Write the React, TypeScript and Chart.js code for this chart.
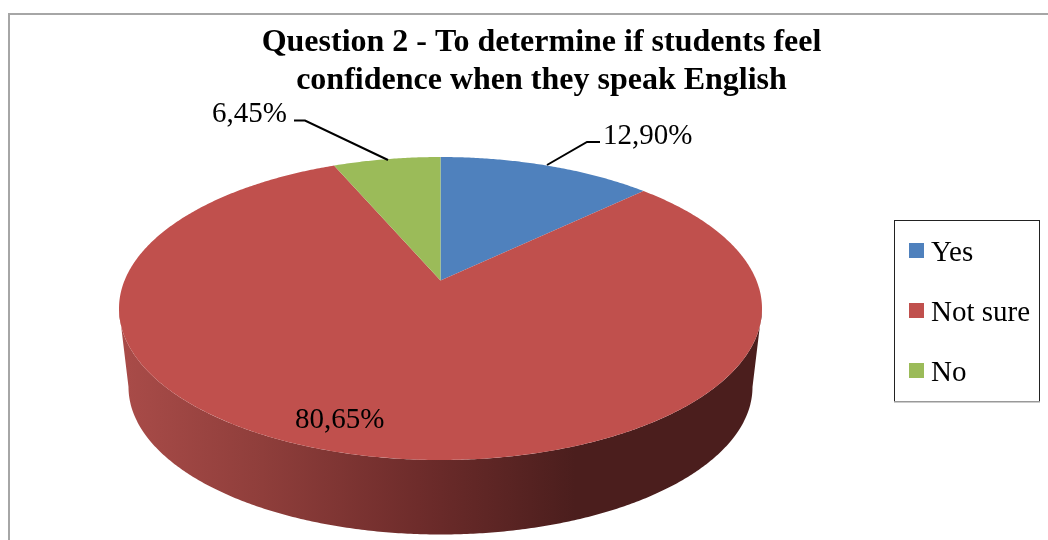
import React, { useEffect, useRef } from "react";
import { Chart, registerables } from "chart.js";

Chart.register(...registerables);

const categories = ["Yes", "Not sure", "No"];
const shares = [12.9, 80.65, 6.45];
const sliceColors = ["#4F81BD", "#C0504D", "#9BBB59"];
const titleLines = ["Question 2 - To determine if students feel", "confidence when they speak English"];
const FONT = '"Liberation Serif"';

// Projective view of a disc: k sets how far the hub sits behind the outline's centre.
type Plane = { cx: number; cy: number; rx: number; ry: number; k: number };
const topPlane: Plane = { cx: 440.5, cy: 308.5, rx: 321.5, ry: 151.5, k: 0.185 };
const basePlane: Plane = { cx: 440.5, cy: 387, rx: 312, ry: 147.5, k: 0.185 };

function project(p: Plane, angle: number): [number, number] {
  const u = Math.cos(angle);
  const v = Math.sin(angle);
  const d = 1 - p.k * v;
  const a = p.rx * Math.sqrt(1 - p.k * p.k);
  return [p.cx + (a * u) / d, p.cy + (p.ry * v - p.k * p.ry) / d];
}

function hub(p: Plane): [number, number] {
  return [p.cx, p.cy - p.k * p.ry];
}

function tracePoints(ctx: CanvasRenderingContext2D, p: Plane, from: number, to: number, move = false) {
  const steps = Math.max(8, Math.ceil(Math.abs(to - from) * 120));
  for (let i = 0; i <= steps; i++) {
    const [x, y] = project(p, from + ((to - from) * i) / steps);
    if (i === 0 && move) ctx.moveTo(x, y);
    else ctx.lineTo(x, y);
  }
}

const percent = (v: number) => v.toFixed(2).replace(".", ",") + "%";

const tiltedPie = {
  id: "tiltedPie",
  beforeDraw(chart: Chart) {
    const { ctx, width, height } = chart;
    ctx.save();
    ctx.fillStyle = "#ffffff";
    ctx.fillRect(0, 0, width, height);
    ctx.strokeStyle = "#A6A6A6";
    ctx.lineWidth = 2;
    ctx.beginPath();
    ctx.moveTo(9, height);
    ctx.lineTo(9, 14);
    ctx.lineTo(width, 14);
    ctx.stroke();
    ctx.restore();
  },
  // The arcs are painted here from the angles the pie controller computed.
  beforeDatasetDraw() {
    return false;
  },
  afterDatasetsDraw(chart: Chart) {
    const { ctx } = chart;
    const arcs = chart.getDatasetMeta(0).data as any[];
    ctx.save();

    // Side wall of the disc
    const horizonAngle = Math.asin(topPlane.k);
    const wall = ctx.createLinearGradient(128, 0, 575, 0);
    wall.addColorStop(0, "#A84B48");
    wall.addColorStop(0.3, "#8F3E3B");
    wall.addColorStop(0.65, "#6E2C2B");
    wall.addColorStop(1, "#4B1E1D");
    ctx.fillStyle = wall;
    ctx.beginPath();
    tracePoints(ctx, topPlane, horizonAngle, Math.PI - horizonAngle, true);
    tracePoints(ctx, basePlane, Math.PI - horizonAngle, horizonAngle);
    ctx.closePath();
    ctx.fill();

    // Top face
    arcs.forEach((arc, i) => {
      const [hx, hy] = hub(topPlane);
      ctx.fillStyle = sliceColors[i];
      ctx.beginPath();
      ctx.moveTo(hx, hy);
      tracePoints(ctx, topPlane, arc.startAngle, arc.endAngle);
      ctx.closePath();
      ctx.fill();
    });

    // Value labels and their leader lines
    ctx.fillStyle = "#000000";
    ctx.font = `29px ${FONT}`;
    ctx.textBaseline = "alphabetic";
    ctx.textAlign = "left";
    ctx.fillText(percent(shares[0]), 603, 144);
    ctx.fillText(percent(shares[1]), 295, 428);
    ctx.fillText(percent(shares[2]), 212, 122);

    ctx.strokeStyle = "#000000";
    ctx.lineWidth = 2;
    ctx.beginPath();
    ctx.moveTo(547, 165);
    ctx.lineTo(587, 142);
    ctx.lineTo(600, 142);
    ctx.moveTo(294, 120.5);
    ctx.lineTo(305, 120.5);
    ctx.lineTo(388, 160);
    ctx.stroke();

    // Legend box
    ctx.strokeStyle = "#222222";
    ctx.lineWidth = 1;
    ctx.strokeRect(894.5, 220.5, 145, 181);
    ctx.fillStyle = "#999999";
    ctx.fillRect(894, 401, 146, 1.5);
    categories.forEach((name, i) => {
      const y = 243 + i * 60;
      ctx.fillStyle = sliceColors[i];
      ctx.fillRect(909, y, 15, 15);
      ctx.fillStyle = "#000000";
      ctx.fillText(name, 931, y + 18);
    });
    ctx.restore();
  },
};

export default function App() {
  const ref = useRef<HTMLCanvasElement>(null);
  useEffect(() => {
    const chart = new Chart(ref.current!, {
      type: "pie",
      data: {
        labels: categories,
        datasets: [{ data: shares, backgroundColor: sliceColors, borderWidth: 0 }],
      },
      options: {
        responsive: false,
        animation: false,
        layout: { padding: { left: 35, top: 24 } },
        plugins: {
          legend: { display: false },
          tooltip: { enabled: false },
          title: {
            display: true,
            text: titleLines,
            color: "#000000",
            padding: 0,
            font: { family: FONT, size: 32, weight: "bold", lineHeight: 1.18 },
          },
        },
      },
      plugins: [tiltedPie],
    } as any);
    return () => chart.destroy();
  }, []);
  return (
    <canvas
      ref={ref}
      width={1048}
      height={540}
      style={{ position: "absolute", left: 0, top: 0, display: "block" }}
    />
  );
}
